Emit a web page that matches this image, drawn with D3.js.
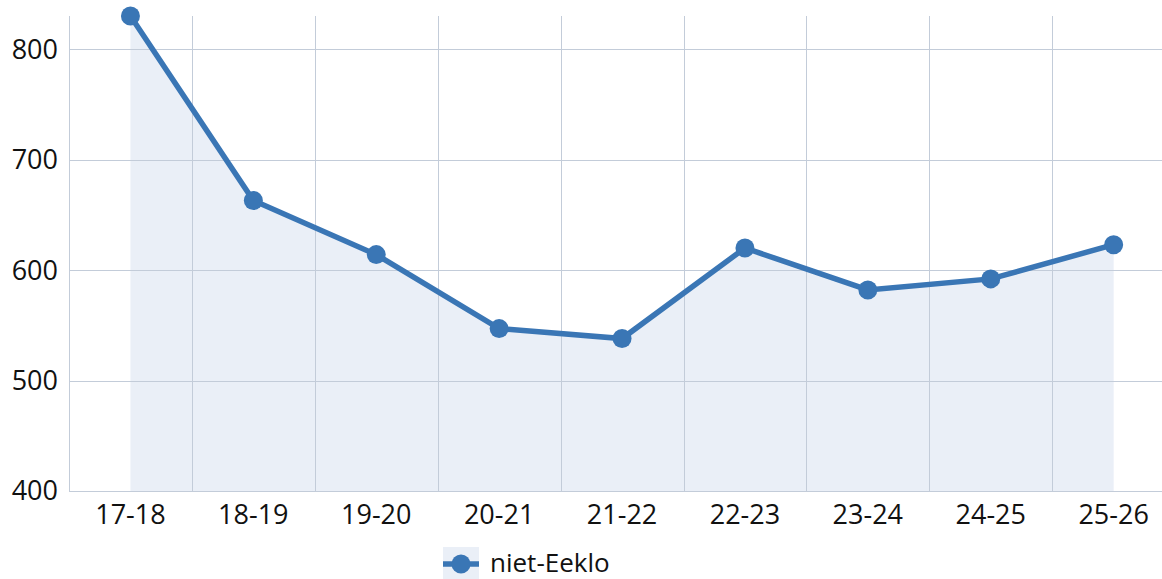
<!DOCTYPE html>
<html>
<head>
<meta charset="utf-8">
<script src="https://cdn.jsdelivr.net/npm/d3@7"></script>
<style>
  body { margin: 0; background: #fff; }
  text { font-family: "Open Sans", "Noto Sans", sans-serif; fill: #111; }
</style>
</head>
<body>
<div id="chart"></div>
<script>
const categories = ["17-18", "18-19", "19-20", "20-21", "21-22", "22-23", "23-24", "24-25", "25-26"];
const values = [830, 663, 614, 547, 538, 620, 582, 592, 623];
const yTicks = [400, 500, 600, 700, 800];
const seriesName = "niet-Eeklo";

const W = 1162, H = 579;
const plotLeft = 69, plotTop = 16, plotBottom = 491;
const bandW = 122.9;
const fontSize = 27;

const svg = d3.select("#chart").append("svg")
    .attr("width", W)
    .attr("height", H);

const x = d3.scaleBand()
    .domain(categories)
    .range([plotLeft, plotLeft + bandW * categories.length]);

const y = d3.scaleLinear()
    .domain([400, 830])
    .range([plotBottom, plotTop]);

const cx = d => x(d) + x.bandwidth() / 2;
const data = categories.map((c, i) => ({ c: c, v: values[i] }));

// area
svg.append("path")
    .datum(data)
    .attr("fill", "#eaeff7")
    .attr("d", d3.area()
        .x(d => cx(d.c))
        .y0(y(400))
        .y1(d => y(d.v)));

// horizontal grid
svg.append("g").attr("stroke", "#c3ccd9")
    .selectAll("line")
    .data(yTicks)
    .join("line")
    .attr("x1", plotLeft).attr("x2", W)
    .attr("y1", d => Math.round(y(d)) + 0.5)
    .attr("y2", d => Math.round(y(d)) + 0.5);

// vertical grid at band edges
svg.append("g").attr("stroke", "#c3ccd9")
    .selectAll("line")
    .data(categories)
    .join("line")
    .attr("x1", d => Math.round(x(d)) + 0.5).attr("x2", d => Math.round(x(d)) + 0.5)
    .attr("y1", plotTop).attr("y2", plotBottom);

// y axis labels
svg.append("g")
    .selectAll("text")
    .data(yTicks)
    .join("text")
    .attr("x", 58)
    .attr("y", d => y(d))
    .attr("dy", "0.35em")
    .attr("text-anchor", "end")
    .attr("font-size", fontSize)
    .text(d => d);

// x axis labels
svg.append("g")
    .selectAll("text")
    .data(categories)
    .join("text")
    .attr("x", d => cx(d))
    .attr("y", 524)
    .attr("text-anchor", "middle")
    .attr("font-size", fontSize)
    .text(d => d);

// line
svg.append("path")
    .datum(data)
    .attr("fill", "none")
    .attr("stroke", "#3a76b5")
    .attr("stroke-width", 5.5)
    .attr("d", d3.line()
        .x(d => cx(d.c))
        .y(d => y(d.v)));

svg.append("g")
    .selectAll("circle")
    .data(data)
    .join("circle")
    .attr("cx", d => cx(d.c))
    .attr("cy", d => y(d.v))
    .attr("r", 9.5)
    .attr("fill", "#3a76b5");

// legend
const lg = svg.append("g").attr("transform", "translate(443,547)");
lg.append("rect").attr("width", 36).attr("height", 32).attr("fill", "#eaeff7");
lg.append("line").attr("x1", 0).attr("x2", 36).attr("y1", 17).attr("y2", 17)
    .attr("stroke", "#3a76b5").attr("stroke-width", 5.5);
lg.append("circle").attr("cx", 18).attr("cy", 17).attr("r", 9.5).attr("fill", "#3a76b5");
lg.append("text").attr("x", 47).attr("y", 16).attr("dy", "0.35em")
    .attr("font-size", 26).text(seriesName);
</script>
</body>
</html>
